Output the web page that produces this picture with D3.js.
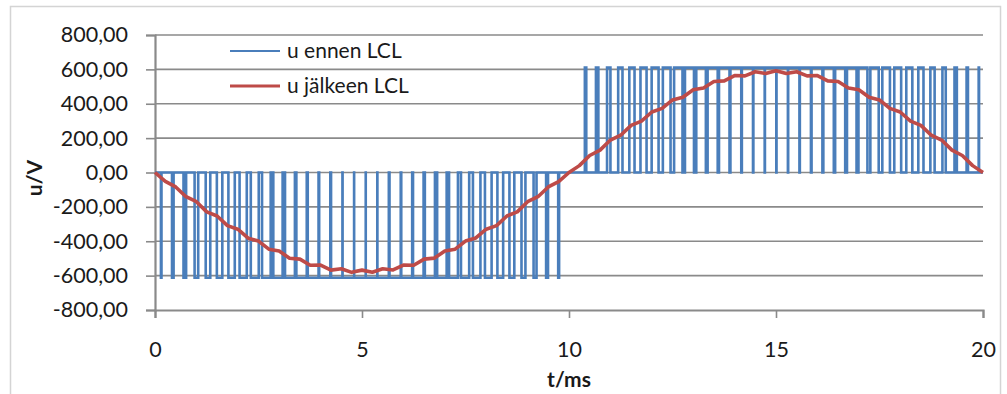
<!DOCTYPE html>
<html><head><meta charset="utf-8">
<script src="https://cdn.jsdelivr.net/npm/d3@7"></script>
<style>
html,body{margin:0;padding:0;background:#fff;}
svg text{font-family:Lato,"Open Sans",sans-serif;fill:#1a1a1a;}
</style></head>
<body><svg id="c" width="1007" height="394"></svg>
<script>
// ---- data ----
const yTicks = [-800,-600,-400,-200,0,200,400,600,800];
const xTicks = [0,5,10,15,20];
const seriesNames = ["u ennen LCL","u jälkeen LCL"];

// blue (u ennen LCL): PWM pulses, centres (ms) and widths (ms) at the DC level
const negLevel = -612;
const negCenters = [0.15,0.43,0.72,1.00,1.28,1.56,1.85,2.13,2.41,2.69,2.97,3.26,3.54,3.82,4.10,4.39,4.67,4.95,5.23,5.51,5.80,6.08,6.36,6.64,6.93,7.21,7.49,7.77,8.05,8.34,8.62,8.90,9.18,9.47,9.75];
const negWidths  = [0.013,0.038,0.063,0.087,0.110,0.132,0.154,0.174,0.192,0.209,0.225,0.239,0.251,0.261,0.269,0.275,0.278,0.280,0.279,0.276,0.271,0.264,0.255,0.244,0.230,0.215,0.198,0.181,0.161,0.139,0.118,0.095,0.071,0.046,0.022];
const posLevel = 610;
const posCenters = [10.40,10.68,10.96,11.24,11.52,11.80,12.08,12.36,12.64,12.91,13.19,13.47,13.75,14.03,14.31,14.59,14.87,15.15,15.43,15.71,15.99,16.27,16.55,16.83,17.10,17.38,17.66,17.94,18.22,18.50,18.78,19.06,19.34,19.62,19.90];
const posWidths  = [0.034,0.058,0.082,0.104,0.126,0.147,0.167,0.186,0.203,0.218,0.232,0.244,0.254,0.262,0.269,0.273,0.275,0.275,0.272,0.268,0.262,0.253,0.243,0.231,0.217,0.202,0.184,0.166,0.146,0.125,0.103,0.080,0.057,0.033,0.009];

// red (u jälkeen LCL): sampled every 0.25 ms from 0 to 20 ms
const redValues = [0,-52,-84,-141,-170,-229,-253,-309,-330,-382,-399,-446,-457,-499,-504,-540,-539,-568,-560,-581,-568,-580,-560,-567,-539,-540,-504,-498,-457,-446,-399,-381,-330,-309,-253,-229,-170,-141,-84,-53,0,
  40,99,130,189,217,274,299,352,373,422,438,481,492,529,533,564,562,586,576,592,576,586,562,564,533,529,492,481,438,422,373,352,299,274,217,189,130,99,40,0];
const redStep = 0.25;

// ---- chart ----
const svg = d3.select("#c");
const x = d3.scaleLinear().domain([0,20]).range([155,983]);
const y = d3.scaleLinear().domain([-800,800]).range([310,35]);

// outer border
svg.append("rect").attr("x",10.5).attr("y",6.5).attr("width",990).attr("height",420)
  .attr("fill","none").attr("stroke","#d4d4d4").attr("stroke-width",1.5);

// gridlines
svg.append("g").selectAll("line").data(yTicks.filter(d=>d>-800)).join("line")
  .attr("x1",x(0)).attr("x2",x(20)).attr("y1",d=>y(d)).attr("y2",d=>y(d))
  .attr("stroke","#8a8a8a").attr("stroke-width",1.6);

const loc = d3.formatLocale({decimal:",",thousands:"\u00a0",grouping:[3],currency:["",""],minus:"-"});
const fmt = loc.format(".2f");

// y axis
const ya = svg.append("g").attr("transform",`translate(${x(0)},0)`)
  .call(d3.axisLeft(y).tickValues(yTicks).tickSize(9).tickPadding(18).tickFormat(fmt));
ya.select(".domain").attr("stroke","#8a8a8a").attr("stroke-width",2.2);
ya.selectAll(".tick line").attr("stroke","#8a8a8a").attr("stroke-width",1.6);
ya.selectAll(".tick text").attr("font-size",21.5).attr("font-family","Lato").attr("fill","#1a1a1a");

// x axis
const xa = svg.append("g").attr("transform",`translate(0,${y(-800)})`)
  .call(d3.axisBottom(x).tickValues(xTicks).tickSize(8).tickPadding(24).tickFormat(d3.format("d")));
xa.select(".domain").attr("stroke","#8a8a8a").attr("stroke-width",2.2);
xa.selectAll(".tick line").attr("stroke","#8a8a8a").attr("stroke-width",1.6);
xa.selectAll(".tick text").attr("font-size",21.5).attr("font-family","Lato").attr("fill","#1a1a1a");

// axis titles
svg.append("text").attr("x",(x(0)+x(20))/2).attr("y",387).attr("text-anchor","middle")
  .attr("font-size",21).attr("font-weight","bold").text("t/ms");
svg.append("text").attr("transform","translate(42,178) rotate(-90)").attr("text-anchor","middle")
  .attr("font-size",21).attr("font-weight","bold").text("u/V");

// blue series points
const bluePts = [[0,0]];
negCenters.forEach((c,i)=>{const w=negWidths[i];
  bluePts.push([c-w/2,0],[c-w/2,negLevel],[c+w/2,negLevel],[c+w/2,0]);});
posCenters.forEach((c,i)=>{const w=posWidths[i];
  bluePts.push([c-w/2,0],[c-w/2,posLevel],[c+w/2,posLevel],[c+w/2,0]);});
bluePts.push([20,0]);

const line = d3.line().x(d=>x(d[0])).y(d=>y(d[1]));
svg.append("path").datum(bluePts).attr("d",line).attr("fill","none")
  .attr("stroke","#4a7ebb").attr("stroke-width",2.6).attr("stroke-linejoin","miter");

const redPts = redValues.map((v,i)=>[i*redStep,v]);
svg.append("path").datum(redPts).attr("d",line).attr("fill","none")
  .attr("stroke","#be4b48").attr("stroke-width",3.6).attr("stroke-linejoin","round");

// legend
const lg = svg.append("g");
const colors = ["#4a7ebb","#be4b48"];
const ly = [51,86];
seriesNames.forEach((n,i)=>{
  lg.append("line").attr("x1",230).attr("x2",280).attr("y1",ly[i]).attr("y2",ly[i])
    .attr("stroke",colors[i]).attr("stroke-width",i?3:2.2);
  lg.append("text").attr("x",287).attr("y",ly[i]+7).attr("font-size",21).text(n);
});
</script></body></html>
